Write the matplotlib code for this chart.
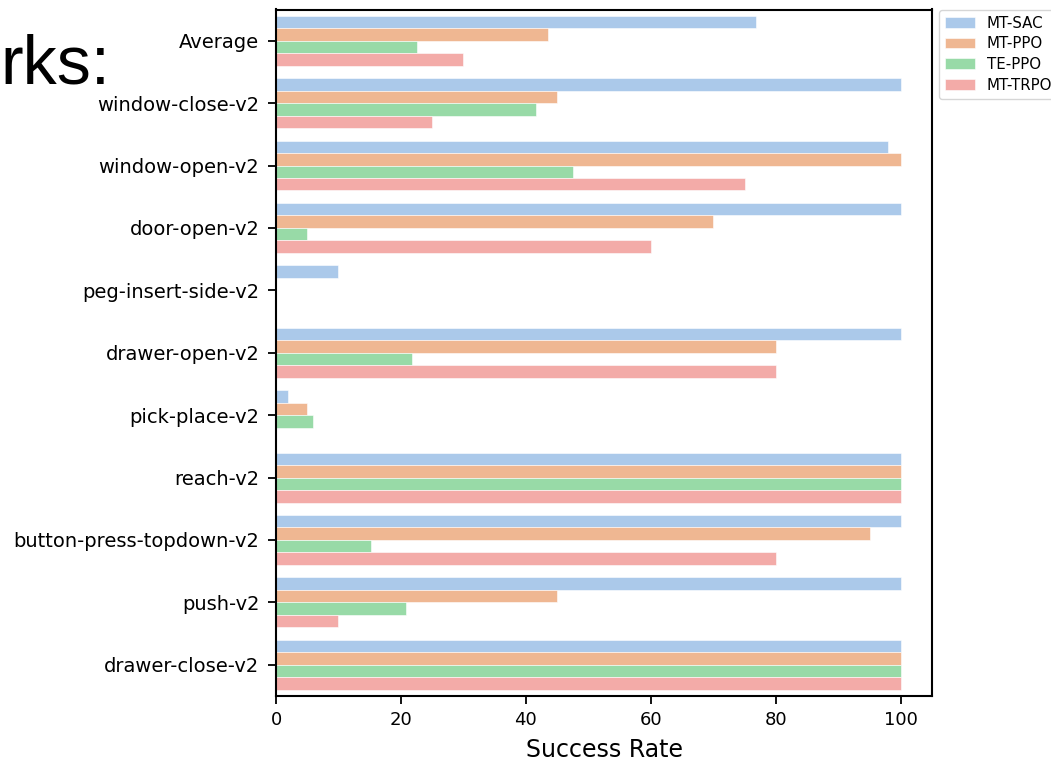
import numpy as np
import matplotlib
matplotlib.use("Agg")
import matplotlib.pyplot as plt
import seaborn as sns

# task names, top to bottom
tasks = ["Average", "window-close-v2", "window-open-v2", "door-open-v2",
         "peg-insert-side-v2", "drawer-open-v2", "pick-place-v2", "reach-v2",
         "button-press-topdown-v2", "push-v2", "drawer-close-v2"]

methods = ["MT-SAC", "MT-PPO", "TE-PPO", "MT-TRPO"]

# success rates
mt_sac = [76.8, 100, 98, 100, 10, 100, 2, 100, 100, 100, 100]
mt_ppo = [43.5, 45, 100, 70, 0, 80, 5, 100, 95, 45, 100]
te_ppo = [22.6, 41.6, 47.6, 5, 0, 21.7, 6, 100, 15.2, 20.8, 100]
mt_trpo = [29.9, 25, 75, 60, 0, 80, 0, 100, 80, 10, 100]

series = [mt_sac, mt_ppo, te_ppo, mt_trpo]
colors = [sns.desaturate(c, 0.75) for c in sns.color_palette("pastel", 4)]

fig = plt.figure(figsize=(10.51, 7.63), dpi=100)
ax = fig.add_axes([276 / 1051, 1 - 696 / 763, 656 / 1051, 686.5 / 763])

y = np.arange(len(tasks))
h = 0.2
for i, (vals, name) in enumerate(zip(series, methods)):
    ax.barh(y + (i - 1.5) * h, vals, height=h, color=colors[i], label=name,
            edgecolor="white", linewidth=0.4)

ax.set_ylim(len(tasks) - 0.5, -0.5)
ax.set_xlim(0, 105)
ax.set_yticks(y)
ax.set_yticklabels(tasks, fontsize=14)
ax.set_xticks([0, 20, 40, 60, 80, 100])
ax.tick_params(axis="x", labelsize=13, length=6, width=1.3, pad=5)
ax.tick_params(axis="y", length=6, width=1.3, pad=6)
for sp in ax.spines.values():
    sp.set_linewidth(1.5)
ax.set_xlabel("Success Rate", fontsize=17, labelpad=6)

ax.legend(bbox_to_anchor=(1.01, 1), loc=2, borderaxespad=0., fontsize=10.8,
          labelspacing=0.38)

# leftover slide title text
fig.text(0.0, 1 - 83 / 763, "rks:", fontsize=49, family="Liberation Sans",
         ha="left", va="baseline")

fig.savefig("out.png", dpi=100)
